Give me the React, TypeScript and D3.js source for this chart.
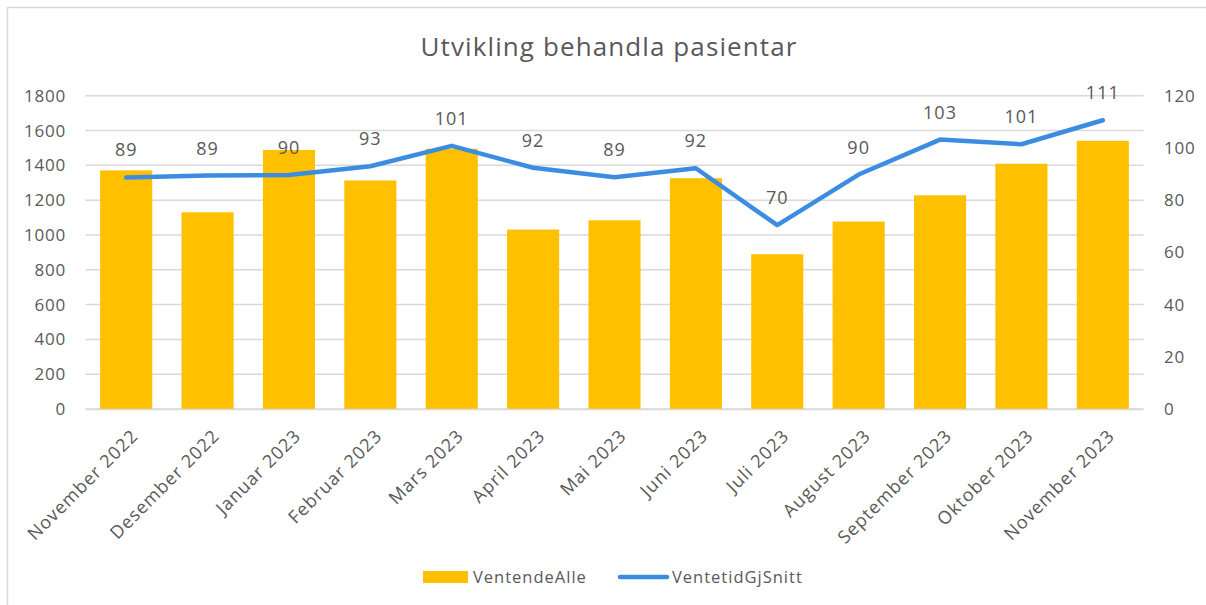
import { useEffect, useRef } from 'react';
import * as d3 from 'd3';

const categories = [
  'November 2022', 'Desember 2022', 'Januar 2023', 'Februar 2023', 'Mars 2023', 'April 2023',
  'Mai 2023', 'Juni 2023', 'Juli 2023', 'August 2023', 'September 2023', 'Oktober 2023', 'November 2023',
];
const ventendeAlle = [1371, 1130, 1488, 1313, 1495, 1031, 1084, 1326, 889, 1077, 1228, 1409, 1541];
const ventetidGjSnitt = [88.7, 89.4, 89.6, 93.0, 100.8, 92.4, 88.8, 92.2, 70.4, 89.8, 103.2, 101.4, 110.6];
const leftTicks = [0, 200, 400, 600, 800, 1000, 1200, 1400, 1600, 1800];
const rightTicks = [0, 20, 40, 60, 80, 100, 120];

const BAR = '#FFC000';
const LINE = '#3C8DE2';
const TEXT = '#595959';
const GRID = '#D9D9D9';
const FONT = '"Open Sans", sans-serif';

const App = () => {
  const svgRef = useRef<SVGSVGElement>(null);

  useEffect(() => {
    document.body.style.margin = '0';
    if (!svgRef.current) return;
    const svg = d3.select(svgRef.current);
    svg.selectAll('*').remove();

    const width = 1206;
    const height = 605;
    const plot = { left: 85.5, right: 1143.5, top: 95.7, bottom: 409 };

    svg.attr('width', width).attr('height', height).style('font-family', FONT);

    svg.append('rect').attr('width', width).attr('height', height).attr('fill', '#fff');

    // chart frame (right and bottom edges fall outside the picture)
    svg
      .append('rect')
      .attr('x', 7.5)
      .attr('y', 7.5)
      .attr('width', width + 20)
      .attr('height', height + 20)
      .attr('fill', 'none')
      .attr('stroke', GRID)
      .attr('stroke-width', 1.5);

    const x = d3
      .scaleBand<string>()
      .domain(categories)
      .range([plot.left, plot.right])
      .paddingInner(0.36)
      .paddingOuter(0.18);
    const yLeft = d3.scaleLinear().domain([0, 1800]).range([plot.bottom, plot.top]);
    const yRight = d3.scaleLinear().domain([0, 120]).range([plot.bottom, plot.top]);

    // Title
    svg
      .append('text')
      .attr('x', 609)
      .attr('y', 56)
      .attr('text-anchor', 'middle')
      .attr('font-size', '26px')
      .attr('letter-spacing', '1.1px')
      .attr('fill', TEXT)
      .text('Utvikling behandla pasientar');

    // Gridlines
    svg
      .append('g')
      .selectAll('line')
      .data(leftTicks)
      .join('line')
      .attr('x1', plot.left)
      .attr('x2', plot.right)
      .attr('y1', (d) => yLeft(d))
      .attr('y2', (d) => yLeft(d))
      .attr('stroke', GRID)
      .attr('stroke-width', 1.5);

    // Left axis labels
    svg
      .append('g')
      .selectAll('text')
      .data(leftTicks)
      .join('text')
      .attr('x', 66)
      .attr('y', (d) => yLeft(d) + 6)
      .attr('text-anchor', 'end')
      .attr('font-size', '17px')
      .attr('letter-spacing', '0.8px')
      .attr('fill', TEXT)
      .text((d) => String(d));

    // Right axis labels
    svg
      .append('g')
      .selectAll('text')
      .data(rightTicks)
      .join('text')
      .attr('x', 1164)
      .attr('y', (d) => yRight(d) + 6)
      .attr('text-anchor', 'start')
      .attr('font-size', '17px')
      .attr('letter-spacing', '0.8px')
      .attr('fill', TEXT)
      .text((d) => String(d));

    // Bars
    svg
      .append('g')
      .selectAll('rect')
      .data(categories)
      .join('rect')
      .attr('x', (d) => x(d)!)
      .attr('y', (_, i) => yLeft(ventendeAlle[i]))
      .attr('width', x.bandwidth())
      .attr('height', (_, i) => yLeft(0) - yLeft(ventendeAlle[i]))
      .attr('fill', BAR);

    // Baseline over bars
    svg
      .append('line')
      .attr('x1', plot.left)
      .attr('x2', plot.right)
      .attr('y1', yLeft(0) + 0.5)
      .attr('y2', yLeft(0) + 0.5)
      .attr('stroke', GRID)
      .attr('stroke-width', 1.5);

    // Category labels
    svg
      .append('g')
      .selectAll('text')
      .data(categories)
      .join('text')
      .attr('transform', (d) => `translate(${x(d)! + x.bandwidth() / 2 + 13},${437}) rotate(-45)`)
      .attr('text-anchor', 'end')
      .attr('font-size', '18px')
      .attr('letter-spacing', '1px')
      .attr('fill', TEXT)
      .text((d) => d);

    // Line
    const cx = (i: number) => x(categories[i])! + x.bandwidth() / 2;
    const line = d3
      .line<number>()
      .x((_, i) => cx(i))
      .y((d) => yRight(d));

    svg
      .append('path')
      .datum(ventetidGjSnitt)
      .attr('d', line)
      .attr('fill', 'none')
      .attr('stroke', LINE)
      .attr('stroke-width', 4.5)
      .attr('stroke-linejoin', 'round')
      .attr('stroke-linecap', 'round');

    // Data labels
    svg
      .append('g')
      .selectAll('text')
      .data(ventetidGjSnitt)
      .join('text')
      .attr('x', (_, i) => cx(i))
      .attr('y', (d) => yRight(d) - 21)
      .attr('text-anchor', 'middle')
      .attr('font-size', '18px')
      .attr('letter-spacing', '1px')
      .attr('fill', TEXT)
      .text((d) => d3.format('.0f')(d));

    // Legend
    const legend = svg.append('g');
    legend.append('rect').attr('x', 423).attr('y', 571).attr('width', 45).attr('height', 12).attr('fill', BAR);
    legend
      .append('text')
      .attr('x', 473)
      .attr('y', 583)
      .attr('font-size', '16.5px')
      .attr('letter-spacing', '1px')
      .attr('fill', TEXT)
      .text('VentendeAlle');
    legend
      .append('line')
      .attr('x1', 620)
      .attr('x2', 667)
      .attr('y1', 577)
      .attr('y2', 577)
      .attr('stroke', LINE)
      .attr('stroke-width', 4.5)
      .attr('stroke-linecap', 'round');
    legend
      .append('text')
      .attr('x', 672)
      .attr('y', 583)
      .attr('font-size', '16.5px')
      .attr('letter-spacing', '1px')
      .attr('fill', TEXT)
      .text('VentetidGjSnitt');
  }, []);

  return <svg ref={svgRef} style={{ display: 'block' }} />;
};

export default App;
